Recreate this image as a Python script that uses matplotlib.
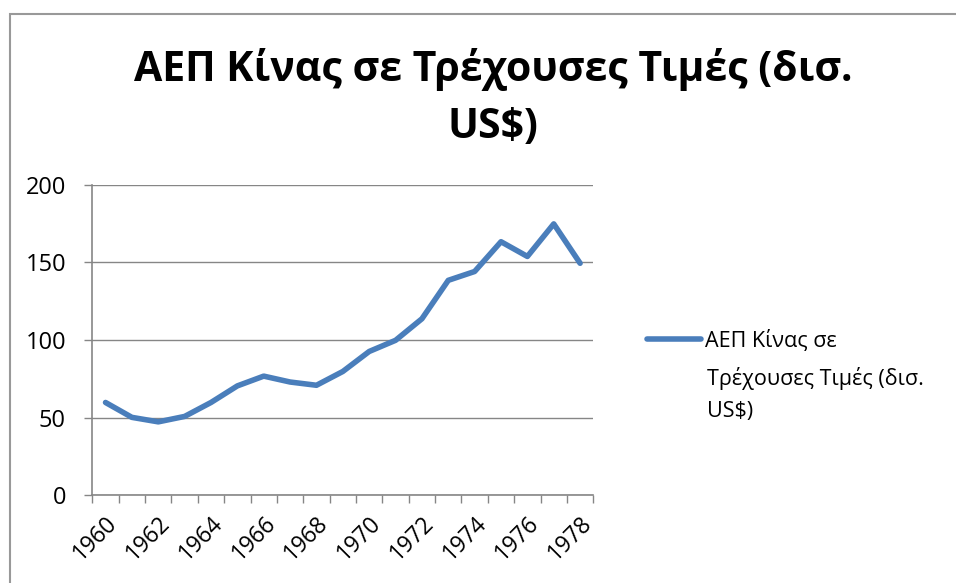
import numpy as np
import matplotlib.pyplot as plt
from matplotlib.patches import Rectangle

plt.rcParams['font.family'] = ['Open Sans', 'DejaVu Sans']

# Data (bn US$)
years = list(range(1960, 1979))
gdp = [59.7, 50.1, 47.2, 50.7, 59.7, 70.4, 76.7, 72.9, 70.8, 79.7,
       92.6, 99.8, 113.7, 138.5, 144.2, 163.4, 153.9, 174.9, 149.5]
title = 'ΑΕΠ Κίνας σε Τρέχουσες Τιμές (δισ.\nUS$)'
series_label = 'ΑΕΠ Κίνας σε'
series_label_rest = 'Τρέχουσες Τιμές (δισ.\nUS$)'

grey = '#868686'
blue = '#4A7EBB'

fig = plt.figure(figsize=(9.56, 5.83), dpi=100)
ax = fig.add_axes([0.0966, 0.1509, 0.524, 0.5318])

x = np.arange(len(years))
ax.plot(x, gdp, color=blue, lw=4, solid_capstyle='round',
        solid_joinstyle='round', label=series_label)

ax.set_xlim(-0.5, len(years) - 0.5)
ax.set_ylim(0, 200)
ax.set_yticks([0, 50, 100, 150, 200])
ax.yaxis.grid(True, color=grey, lw=1.0)
ax.set_axisbelow(True)

# category ticks between points, labels every second year
ax.set_xticks(np.arange(-0.5, len(years), 1))
ax.set_xticklabels([])
ax.set_xticks(x[::2], minor=True)
ax.set_xticklabels([str(y) for y in years[::2]], minor=True,
                   rotation=45, ha='right', rotation_mode='anchor')
ax.tick_params(axis='x', which='major', length=6, color=grey, width=1)
ax.tick_params(axis='x', which='minor', length=0, pad=12, labelsize=16.5)
ax.tick_params(axis='y', length=6, color=grey, width=1, labelsize=17, pad=13)

for s in ['top', 'right']:
    ax.spines[s].set_visible(False)
for s in ['left', 'bottom']:
    ax.spines[s].set_color(grey)
    ax.spines[s].set_linewidth(1.2)

fig.text(0.516, 1 - 98 / 583, title, ha='center', va='center',
         fontsize=29.5, fontweight='bold', linespacing=1.5)

leg = ax.legend(loc='center left', bbox_to_anchor=(0.677, 1 - 341 / 583),
                bbox_transform=fig.transFigure, frameon=False, fontsize=15.5,
                handlelength=2.5, handletextpad=0.2, borderpad=0,
                borderaxespad=0)
fig.text(707 / 956, 1 - 367 / 583, series_label_rest, ha='left', va='top',
         fontsize=15.5, linespacing=1.7)

fig.patches.append(Rectangle((10 / 956, -0.1), 2, 1 - 14.5 / 583 + 0.1,
                             transform=fig.transFigure, fill=False,
                             edgecolor='#999999', lw=1.5))

fig.savefig('out.png', dpi=100)
